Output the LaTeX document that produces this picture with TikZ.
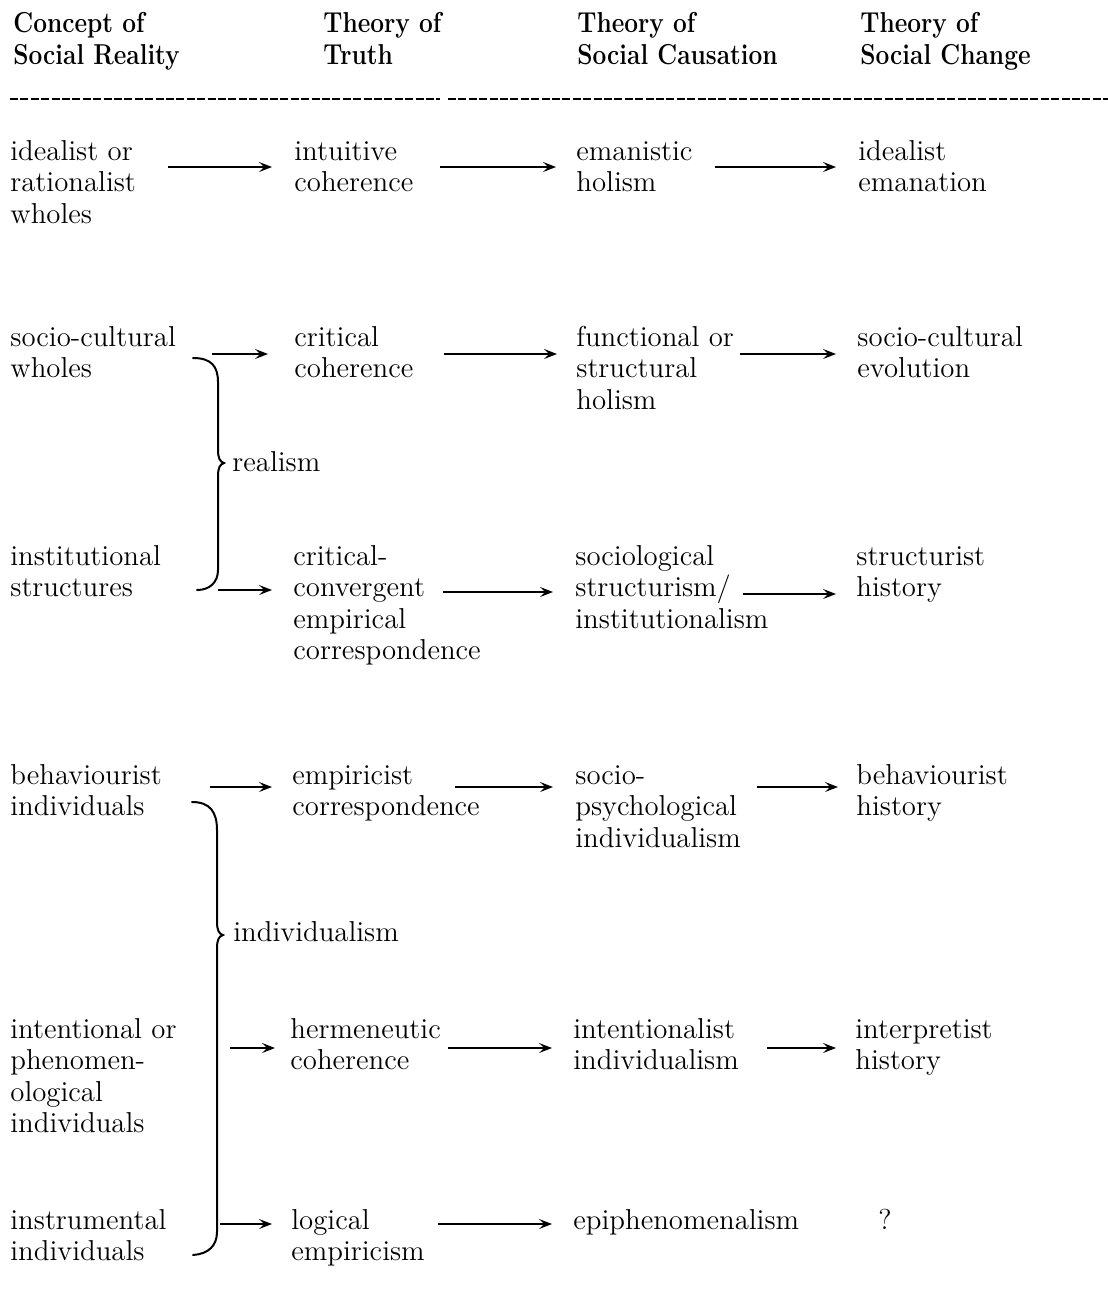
\documentclass[tikz,border=0pt]{standalone}
\usepackage{graphicx}
\usetikzlibrary{arrows.meta}
\newcommand\bodyfont{\fontsize{14.4}{15.75}\selectfont}
\newcommand\ml[1]{\begin{tabular}[t]{@{}l@{}}#1\end{tabular}}
\newcommand\hd[1]{\scalebox{0.85}[1]{\fontsize{14.4}{16}\selectfont\bfseries\begin{tabular}[t]{@{}l@{}}#1\end{tabular}}}
\tikzset{
  txt/.style={anchor=base west, inner sep=0pt, font=\bodyfont},
  arr/.style={line width=0.7pt, -{Stealth[length=6.5pt,width=5pt,inset=2.6pt]}},
  bracepath/.style={line width=1pt, line cap=round},
  rulestyle/.style={line width=1.2pt, dash pattern=on 4pt off 1.2pt}
}
\begin{document}
\begin{tikzpicture}[x=0.5pt,y=-0.5pt]
\useasboundingbox (0,0) rectangle (1108,1308);
% headers
\node[txt] (h1) at (13,32) {\hd{Concept of\\Social Reality}};
\node[txt] (h2) at (323,32) {\hd{Theory of\\Truth}};
\node[txt] (h3) at (577,32) {\hd{Theory of\\Social Causation}};
\node[txt] (h4) at (860,32) {\hd{Theory of\\Social Change}};
% rule
\coordinate (ra) at (10,99); \coordinate (rb) at (440,99);
\coordinate (rc) at (448,99); \coordinate (rd) at (1108,99);
\draw[rulestyle] (ra) -- (rb);
\draw[rulestyle] (rc) -- (rd);
% row 1
\node[txt] (c1r1) at (10,160) {\ml{idealist or\\rationalist\\wholes}};
\node[txt] (c2r1) at (294,160) {\ml{intuitive\\coherence}};
\node[txt] (c3r1) at (576,160) {\ml{emanistic\\holism}};
\node[txt] (c4r1) at (858,160) {\ml{idealist\\emanation}};
% row 2
\node[txt] (c1r2) at (10,346) {\ml{socio-cultural\\wholes}};
\node[txt] (c2r2) at (294,346) {\ml{critical\\coherence}};
\node[txt] (c3r2) at (576,346) {\ml{functional or\\structural\\holism}};
\node[txt] (c4r2) at (857,346) {\ml{socio-cultural\\evolution}};
% row 3
\node[txt] (c1r3) at (10,565) {\ml{institutional\\structures}};
\node[txt] (c2r3) at (293,565) {\ml{critical-\\convergent\\empirical\\correspondence}};
\node[txt] (c3r3) at (575,565) {\ml{sociological\\structurism/\\institutionalism}};
\node[txt] (c4r3) at (856,565) {\ml{structurist\\history}};
% row 4
\node[txt] (c1r4) at (10,784) {\ml{behaviourist\\individuals}};
\node[txt] (c2r4) at (292,784) {\ml{empiricist\\correspondence}};
\node[txt] (c3r4) at (575,784) {\ml{socio-\\psychological\\individualism}};
\node[txt] (c4r4) at (856,784) {\ml{behaviourist\\history}};
% row 5
\node[txt] (c1r5) at (10,1038) {\ml{intentional or\\phenomen-\\ological\\individuals}};
\node[txt] (c2r5) at (290,1038) {\ml{hermeneutic\\coherence}};
\node[txt] (c3r5) at (573,1038) {\ml{intentionalist\\individualism}};
\node[txt] (c4r5) at (855,1038) {\ml{interpretist\\history}};
% row 6
\node[txt] (c1r6) at (10,1229) {\ml{instrumental\\individuals}};
\node[txt] (c2r6) at (291,1229) {\ml{logical\\empiricism}};
\node[txt] (c3r6) at (573,1229) {\ml{epiphenomenalism}};
\node[txt] (c4r6) at (878,1229) {\ml{?}};
% brace labels
\node[txt] (realism) at (232,471) {realism};
\node[txt] (indiv) at (233,941) {individualism};
% braces
\draw[bracepath] (193,358) .. controls (211,358) and (218,366) .. (218,382)
  -- (218,450) .. controls (218,458) and (220,462) .. (224,463)
  .. controls (220,464) and (218,468) .. (218,476)
  -- (218,570) .. controls (218,582) and (210,590) .. (197,590);
\draw[bracepath] (192,802) .. controls (210,802) and (217,812) .. (217,830)
  -- (217,922) .. controls (217,930) and (219,934) .. (223,935)
  .. controls (219,936) and (217,940) .. (217,948)
  -- (217,1232) .. controls (217,1246) and (208,1254) .. (193,1255);
% arrow end points
\coordinate (a11) at (168,167); \coordinate (b11) at (272,167);
\coordinate (a12) at (440,167); \coordinate (b12) at (556,167);
\coordinate (a13) at (715,167); \coordinate (b13) at (836,167);
\coordinate (a21) at (212,354); \coordinate (b21) at (268,354);
\coordinate (a22) at (444,354); \coordinate (b22) at (557,354);
\coordinate (a23) at (740,354); \coordinate (b23) at (836,354);
\coordinate (a31) at (218,590); \coordinate (b31) at (272,590);
\coordinate (a32) at (443,592); \coordinate (b32) at (553,592);
\coordinate (a33) at (743,594); \coordinate (b33) at (836,594);
\coordinate (a41) at (210,787); \coordinate (b41) at (272,787);
\coordinate (a42) at (455,787); \coordinate (b42) at (553,787);
\coordinate (a43) at (757,787); \coordinate (b43) at (838,787);
\coordinate (a51) at (230,1048); \coordinate (b51) at (275,1048);
\coordinate (a52) at (448,1048); \coordinate (b52) at (552,1048);
\coordinate (a53) at (767,1048); \coordinate (b53) at (836,1048);
\coordinate (a61) at (220,1224); \coordinate (b61) at (272,1224);
\coordinate (a62) at (438,1224); \coordinate (b62) at (552,1224);
\foreach \s/\e in {a11/b11,a12/b12,a13/b13,a21/b21,a22/b22,a23/b23,
  a31/b31,a32/b32,a33/b33,a41/b41,a42/b42,a43/b43,a51/b51,a52/b52,a53/b53,
  a61/b61,a62/b62}
  \draw[arr] (\s) -- (\e);
\end{tikzpicture}
\end{document}
